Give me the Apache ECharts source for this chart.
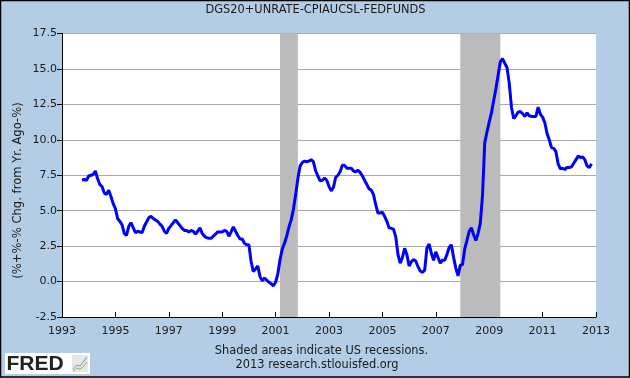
<!DOCTYPE html>
<html>
<head>
<meta charset="utf-8">
<style>
  html, body { margin: 0; padding: 0; background: #b3cde6; }
  #main { width: 630px; height: 378px; }
</style>
<script src="https://cdn.jsdelivr.net/npm/echarts@6/dist/echarts.min.js"></script>
</head>
<body>
<div id="main"></div>
<script>
// months are counted from Jan 1993, so that ticks fall on 1993, 1995, ...
const startMonth = 9; // Oct 1993
const tickLabels = ["17.5", "15.0", "12.5", "10.0", "7.5", "5.0", "2.5", "0.0", "-2.5"];
const recessions = [[98, 106], [179, 197]]; // Mar 2001-Nov 2001, Dec 2007-Jun 2009

const values1993to1997 = [
  7.15, 7.2, 7.15, 7.45, 7.5, 7.55, 7.8, 7.25, 6.85, 6.7, 6.25, 6.15,
  6.45, 6.0, 5.5, 5.15, 4.45, 4.25, 4.0, 3.4, 3.25, 3.9, 4.15, 3.8,
  3.45, 3.55, 3.5, 3.45, 3.9, 4.2, 4.5, 4.6, 4.45, 4.35, 4.25, 4.05,
  3.9, 3.55, 3.4, 3.75, 3.95, 4.15, 4.35, 4.15, 3.95, 3.75, 3.6
];
const values1997to2001 = [
  3.6, 3.5, 3.6, 3.55, 3.35, 3.55, 3.8, 3.4, 3.2, 3.1, 3.05, 3.05,
  3.2, 3.35, 3.5, 3.5, 3.5, 3.6, 3.55, 3.2, 3.5, 3.85, 3.55, 3.25,
  3.0, 3.0, 2.7, 2.6, 2.6, 1.4, 0.7, 0.9, 1.1, 0.35, 0.05, 0.25,
  0.1, -0.05, -0.15, -0.3, -0.05, 0.55
];
const values2001to2005 = [
  1.55, 2.3, 2.7, 3.2, 3.85, 4.35, 5.1, 6.1, 7.25, 8.15, 8.4, 8.5,
  8.45, 8.5, 8.6, 8.45, 7.8, 7.45, 7.1, 7.15, 7.3, 7.15, 6.7, 6.4,
  6.65, 7.35, 7.5, 7.75, 8.2, 8.2, 8.0, 8.0, 8.0, 7.8, 7.75, 7.85,
  7.7, 7.45, 7.15, 6.85, 6.55, 6.45, 6.13, 5.42, 4.83, 4.83
];
const values2005to2009 = [
  4.9, 4.6, 4.25, 3.8, 3.75, 3.7, 3.15, 1.9, 1.3, 1.7, 2.35, 1.9,
  1.1, 1.4, 1.55, 1.45, 1.05, 0.75, 0.65, 0.8, 2.35, 2.65, 2.0, 1.5,
  2.1, 1.7, 1.3, 1.5, 1.5, 1.9, 2.4, 2.6, 1.7, 0.95, 0.4, 1.15,
  1.2, 2.3, 2.9, 3.55, 3.8, 3.3, 2.9, 3.4, 4.1
];
const values2009to2012 = [
  6.1, 9.8, 10.55, 11.25, 11.9, 12.75, 13.6, 14.55, 15.5, 15.72, 15.4, 15.1,
  14.0, 12.3, 11.5, 11.7, 11.95, 12.0, 11.85, 11.65, 11.9, 11.7, 11.65, 11.65,
  11.65, 12.3, 11.8, 11.6, 11.2, 10.45, 10.0, 9.45, 9.4, 9.15, 8.3, 7.95,
  8.0, 7.9, 8.05, 8.05, 8.1, 8.35, 8.6, 8.85, 8.75, 8.8, 8.6, 8.15, 8.05, 8.3
];

const values = [].concat(values1993to1997, values1997to2001, values2001to2005, values2005to2009, values2009to2012);
const lineData = values.map((v, i) => [startMonth + i, v]);

const textColor = "#1a1a1a";
const fontName = "DejaVu Sans";

const chart = echarts.init(document.getElementById("main"), null, { renderer: "canvas" });

const option = {
  animation: false,
  backgroundColor: "#b3cde6",
  grid: {
    left: 62,
    right: 34,
    top: 33.5,
    bottom: 61,
    show: true,
    backgroundColor: "#fff",
    borderWidth: 0
  },
  xAxis: {
    type: "value",
    min: 0,
    max: 240,
    interval: 24,
    axisLine: { onZero: false, lineStyle: { color: "#000", width: 1 } },
    axisTick: { inside: true, length: 5, lineStyle: { color: "#000" } },
    axisLabel: {
      color: textColor,
      fontFamily: fontName,
      fontSize: 11,
      margin: 9,
      formatter: v => String(1993 + v / 12)
    },
    splitLine: { show: false }
  },
  yAxis: {
    type: "value",
    min: -2.5,
    max: 17.5,
    interval: 2.5,
    axisLine: { show: true, lineStyle: { color: "#000", width: 1 } },
    axisTick: { show: true, length: 5, lineStyle: { color: "#000" } },
    axisLabel: {
      color: textColor,
      fontFamily: fontName,
      fontSize: 11,
      margin: 5,
      padding: [2, 0, 0, 0],
      formatter: v => tickLabels[Math.round((17.5 - v) / 2.5)]
    },
    splitLine: { lineStyle: { color: "#aaa", width: 1 } }
  },
  series: [
    {
      type: "line",
      data: lineData,
      showSymbol: false,
      smooth: false,
      lineStyle: { color: "#0000ff", width: 3 },
      markArea: {
        silent: true,
        itemStyle: { color: "#bbb" },
        data: recessions.map(r => [{ xAxis: r[0] }, { xAxis: r[1] }])
      }
    }
  ],
  graphic: [
    {
      type: "rect",
      silent: true,
      shape: { x: 0.5, y: 0.5, width: 629, height: 376.5 },
      style: { fill: null, stroke: "#000", lineWidth: 1.5 }
    },
    {
      type: "text",
      x: 315.5,
      y: 10.5,
      style: {
        text: "DGS20+UNRATE-CPIAUCSL-FEDFUNDS",
        fill: textColor,
        font: "11.4px " + fontName,
        textAlign: "center",
        textVerticalAlign: "middle"
      }
    },
    {
      type: "text",
      x: 18,
      y: 190.5,
      rotation: Math.PI / 2,
      style: {
        text: "(%+%-% Chg. from Yr. Ago-%)",
        fill: textColor,
        font: "11.6px " + fontName,
        textAlign: "center",
        textVerticalAlign: "middle"
      }
    },
    {
      type: "text",
      x: 321.5,
      y: 351.5,
      style: {
        text: "Shaded areas indicate US recessions.",
        fill: textColor,
        font: "11.4px " + fontName,
        textAlign: "center",
        textVerticalAlign: "middle"
      }
    },
    {
      type: "text",
      x: 317,
      y: 365.5,
      style: {
        text: "2013 research.stlouisfed.org",
        fill: textColor,
        font: "11.4px " + fontName,
        textAlign: "center",
        textVerticalAlign: "middle"
      }
    },
    // FRED logo
    {
      type: "rect",
      silent: true,
      shape: { x: 5, y: 353, width: 85, height: 21 },
      style: { fill: "#fff" }
    },
    {
      type: "text",
      x: 6.5,
      y: 364,
      style: {
        text: "FRED",
        fill: "#222",
        font: "bold 21px 'Liberation Sans'",
        textVerticalAlign: "middle"
      }
    },
    {
      type: "rect",
      silent: true,
      shape: { x: 72, y: 355, width: 16, height: 17 },
      style: { fill: "#e6e6e6" }
    },
    {
      type: "polyline",
      silent: true,
      shape: { points: [[73, 369], [77, 365], [80, 366], [84, 361], [87, 357]] },
      style: { fill: null, stroke: "#7d9cc0", lineWidth: 1 }
    },
    {
      type: "polyline",
      silent: true,
      shape: { points: [[73, 371], [77, 368], [80, 369], [84, 366], [87, 362]] },
      style: { fill: null, stroke: "#8fb070", lineWidth: 1 }
    }
  ]
};

chart.setOption(option);
</script>
</body>
</html>
